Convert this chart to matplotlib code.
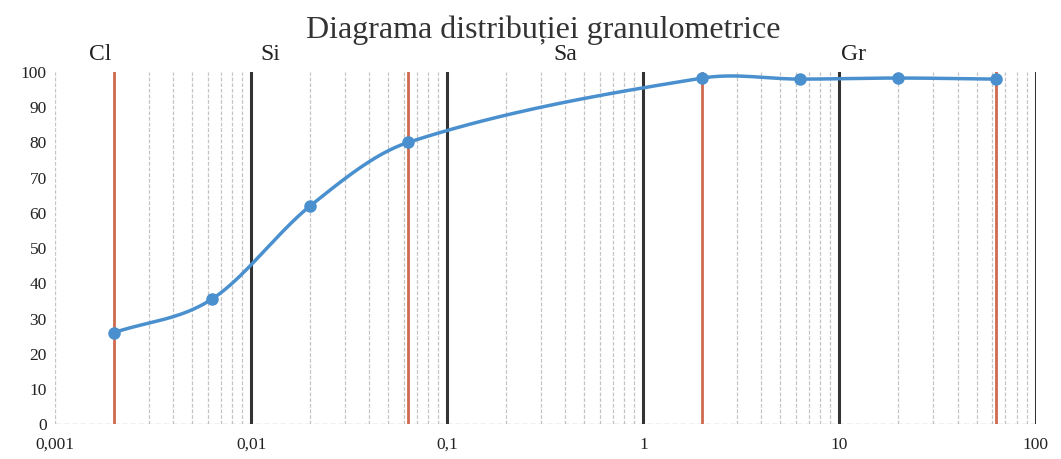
import numpy as np
import matplotlib.pyplot as plt

plt.rcParams['font.family'] = ['Liberation Serif', 'DejaVu Serif']

# date
diam = [0.002, 0.0063, 0.02, 0.063, 2, 6.3, 20, 63]
trecere = [26, 35.5, 62, 80, 98.3, 98, 98.3, 98]
limite_rosii = [0.002, 0.063, 2, 63]
limite_negre = [0.01, 0.1, 1, 10, 100]
etichete = ['Cl', 'Si', 'Sa', 'Gr']
pozitii_etichete = [0.0017, 0.0125, 0.4, 11.8]
xticks = [0.001, 0.01, 0.1, 1, 10, 100]
xtick_labels = ['0,001', '0,01', '0,1', '1', '10', '100']


def netezire(xs, ys, n=40):
    # curba netezita (Hermite in spatiu log)
    px = np.log10(xs)
    py = np.array(ys, dtype=float)
    m = np.zeros_like(py)
    m[0] = (py[1] - py[0]) / (px[1] - px[0])
    m[-1] = (py[-1] - py[-2]) / (px[-1] - px[-2])
    for i in range(1, len(px) - 1):
        m[i] = (py[i + 1] - py[i - 1]) / (px[i + 1] - px[i - 1])
    ox, oy = [], []
    for i in range(len(px) - 1):
        h = px[i + 1] - px[i]
        t = np.linspace(0, 1, n)
        h00 = 2 * t ** 3 - 3 * t ** 2 + 1
        h10 = t ** 3 - 2 * t ** 2 + t
        h01 = -2 * t ** 3 + 3 * t ** 2
        h11 = t ** 3 - t ** 2
        ox.append(px[i] + h * t)
        oy.append(h00 * py[i] + h10 * h * m[i] + h01 * py[i + 1] + h11 * h * m[i + 1])
    return 10 ** np.concatenate(ox), np.concatenate(oy)


fig = plt.figure(figsize=(10.61, 4.59), dpi=100)
ax = fig.add_axes([0.052, 0.076, 0.924, 0.767])
ax.set_xscale('log')
ax.set_xlim(0.001, 100)
ax.set_ylim(0, 100)

for s in ax.spines.values():
    s.set_visible(False)

# grila minora verticala
for dec in [0.001, 0.01, 0.1, 1, 10]:
    for k in range(2, 10):
        ax.axvline(dec * k, color='#c4c4c4', lw=0.9, ls=(0, (3, 1.5)), zorder=1)
ax.axvline(0.001, color='#c4c4c4', lw=0.9, ls=(0, (3, 1.5)), zorder=1)
ax.axhline(0, color='#b8b8b8', lw=1.0, ls=(0, (4, 2)), zorder=1)

for v in limite_negre:
    ax.axvline(v, color='#333333', lw=2.2, zorder=2)
for v in limite_rosii:
    ax.axvline(v, color='#cf6a50', lw=2.0, zorder=2)

cx, cy = netezire(diam, trecere)
ax.plot(cx, cy, color='#4a90cf', lw=2.5, zorder=3)
ax.plot(diam, trecere, 'o', color='#4a90cf', ms=8, zorder=4)

for lab, xp in zip(etichete, pozitii_etichete):
    ax.text(xp, 102, lab, ha='center', va='bottom', fontsize=17, color='#222222')

ax.set_xticks(xticks)
ax.set_xticklabels(xtick_labels)
ax.set_xticks([], minor=True)
ax.set_yticks(range(0, 101, 10))
ax.tick_params(length=0, labelsize=12.5, colors='#222222')
ax.tick_params(axis='x', pad=9)
ax.tick_params(axis='y', pad=6)

fig.text(0.512, 0.935, 'Diagrama distribuției granulometrice', ha='center', va='center',
         fontsize=23, color='#333333')

fig.savefig('out.png', dpi=100)
